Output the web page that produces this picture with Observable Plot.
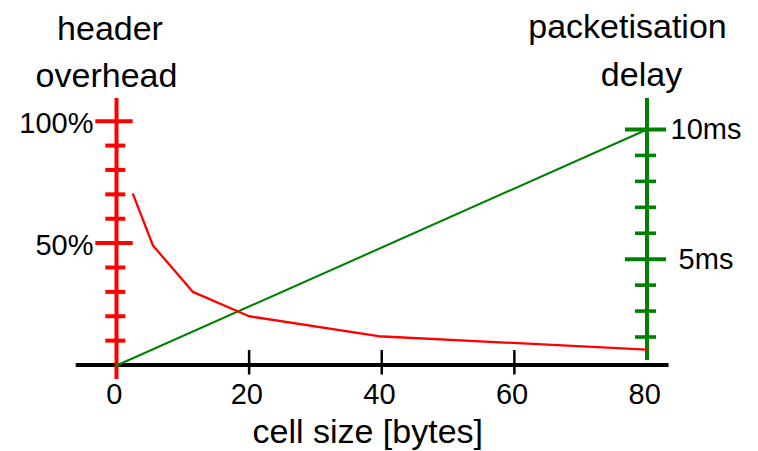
<!DOCTYPE html>
<html>
<head>
<meta charset="utf-8">
<script src="https://cdn.jsdelivr.net/npm/d3@7"></script>
<script src="https://cdn.jsdelivr.net/npm/@observablehq/plot@0.6"></script>
<style>
  html, body { margin: 0; padding: 0; background: #fff; }
</style>
</head>
<body>
<div id="chart"></div>
<script>
// ---- data ----
const cellSize = [2.5, 5.5, 11.5, 20, 39.5, 80];          // bytes
const headerOverhead = [70, 49, 30, 20, 11.8, 6.3];        // %
const delayCellSize = [0, 80];                             // bytes
const delayMs = [0.9, 10];                                 // ms (read on right axis)
const xTicks = [0, 20, 40, 60, 80];
const xTickMarks = [20, 40, 60];
const pctMajor = [50, 100];
const pctMinor = [10, 20, 30, 40, 60, 70, 80, 90];
const pctLabels = ["50%", "100%"];
const msMajor = [5, 10];
const msMinor = [2, 3, 4, 6, 7, 8, 9];
const msLabels = ["5ms", "10ms"];
const xTitle = "cell size [bytes]";
const leftTitle = ["header", "overhead"];
const rightTitle = ["packetisation", "delay"];

// ---- right (delay) axis expressed in the left (%) axis units ----
const msToPct = d3.scaleLinear().domain([0, 10]).range([-9.8, 96.6]);

const RED = "#ff0000", GREEN = "#008000", BLACK = "#000000";
const FONT = "'Liberation Sans', Arial, Helvetica, sans-serif";

const overheadData = cellSize.map((x, i) => ({x, y: headerOverhead[i]}));
const delayData = delayCellSize.map((x, i) => ({x, ms: delayMs[i]}));

const chart = Plot.plot({
  width: 758,
  height: 451,
  marginLeft: 116,
  marginRight: 111.5,
  marginTop: 120.7,
  marginBottom: 86.5,
  x: {domain: [0, 80], axis: null},
  y: {domain: [0, 100], axis: null},
  style: {fontFamily: FONT, background: "#fff", color: BLACK},
  marks: [
    // x axis line and ticks
    Plot.ruleY([0], {stroke: BLACK, strokeWidth: 4, insetLeft: -40.3, insetRight: -22}),
    Plot.ruleX(xTickMarks, {x: d => d, y1: 0, y2: 0, insetTop: -14.5, insetBottom: -10, stroke: BLACK, strokeWidth: 2.5}),
    // left (red) axis
    Plot.ruleX([0], {x: d => d, stroke: RED, strokeWidth: 4, insetTop: -22.7, insetBottom: -14.5}),
    Plot.ruleY(pctMinor, {y: d => d, x1: 0, x2: 0, insetLeft: -10.7, insetRight: -9.3, stroke: RED, strokeWidth: 4}),
    Plot.ruleY(pctMajor, {y: d => d, x1: 0, x2: 0, insetLeft: -20.7, insetRight: -16.7, stroke: RED, strokeWidth: 4}),
    // right (green) axis
    Plot.ruleX([80], {x: d => d, stroke: GREEN, strokeWidth: 4, insetTop: -22.7, insetBottom: 4.5}),
    Plot.ruleY(msMinor, {y: d => msToPct(d), x1: 80, x2: 80, insetLeft: -11.5, insetRight: -9.5, stroke: GREEN, strokeWidth: 3.6}),
    Plot.ruleY(msMajor, {y: d => msToPct(d), x1: 80, x2: 80, insetLeft: -21.5, insetRight: -19.5, stroke: GREEN, strokeWidth: 4}),
    // data lines
    Plot.line(delayData, {x: "x", y: d => msToPct(d.ms), stroke: GREEN, strokeWidth: 2.1}),
    Plot.line(overheadData, {x: "x", y: "y", stroke: RED, strokeWidth: 2.3}),
    // tick labels
    Plot.text(xTicks, {x: d => d, y: 0, text: d => String(d), textAnchor: "middle", lineAnchor: "bottom", dx: -2.3, dy: 38.5, fontSize: 29, fill: BLACK}),
    Plot.text(pctMajor, {x: 0, y: d => d, text: (d, i) => pctLabels[i], textAnchor: "end", lineAnchor: "bottom", dx: -23, dy: 11.5, fontSize: 29, fill: BLACK}),
    Plot.text(msMajor, {x: 80, y: d => msToPct(d), text: (d, i) => msLabels[i], textAnchor: "middle", lineAnchor: "bottom", dx: 59, dy: 9.5, fontSize: 29, fill: BLACK}),
    // titles
    Plot.text([xTitle], {frameAnchor: "bottom", textAnchor: "middle", lineAnchor: "bottom", dx: -14, dy: 78, fontSize: 34, fill: BLACK}),
    Plot.text([leftTitle[0]], {frameAnchor: "top-left", textAnchor: "middle", lineAnchor: "bottom", dx: -6.5, dy: -81.7, fontSize: 34, fill: BLACK}),
    Plot.text([leftTitle[1]], {frameAnchor: "top-left", textAnchor: "middle", lineAnchor: "bottom", dx: -10, dy: -34.7, fontSize: 34, fill: BLACK}),
    Plot.text([rightTitle[0]], {frameAnchor: "top-right", textAnchor: "middle", lineAnchor: "bottom", dx: -19.5, dy: -83.4, fontSize: 34, fill: BLACK}),
    Plot.text([rightTitle[1]], {frameAnchor: "top-right", textAnchor: "middle", lineAnchor: "bottom", dx: -5.5, dy: -35.7, fontSize: 34, fill: BLACK})
  ]
});
document.getElementById("chart").appendChild(chart);
</script>
</body>
</html>
